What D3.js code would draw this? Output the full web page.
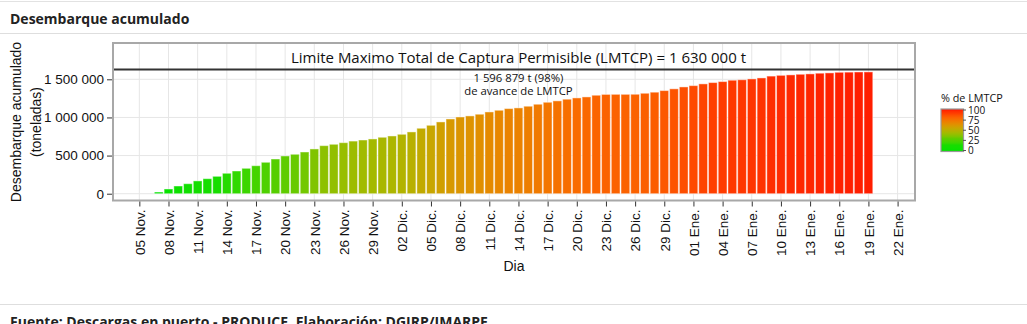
<!DOCTYPE html>
<html><head><meta charset="utf-8">
<script src="https://cdn.jsdelivr.net/npm/d3@7"></script>
<style>
html,body{margin:0;padding:0;background:#fff;}
svg{display:block;}
</style></head>
<body>
<svg id="chart" width="1027" height="324"></svg>
<script>
// ---------------- data ----------------
const firstLandingDay = "2016-11-07";
const landings = [
  22000, 62000, 101000, 131000, 168000, 197000, 228000, 268000, 298000, 333000,
  367000, 412000, 455000, 495000, 517000, 547000, 587000, 630000, 648000, 669000,
  690000, 704000, 718000, 740000, 757000, 779000, 810000, 858000, 897000, 941000,
  980000, 1006000, 1020000, 1042000, 1072000, 1094000, 1116000, 1125000, 1147000, 1173000,
  1199000, 1217000, 1239000, 1256000, 1269000, 1291000, 1302000, 1303000, 1303000, 1304000,
  1317000, 1331000, 1352000, 1375000, 1400000, 1417000, 1440000, 1457000, 1470000, 1488000,
  1494000, 1505000, 1518000, 1542000, 1552000, 1558000, 1566000, 1571000, 1580000, 1584000,
  1592000, 1594000, 1596000, 1596879
];
const lmtcp = 1630000;
const yTicks = [0, 500000, 1000000, 1500000];
const yTickLabels = ["0", "500 000", "1 000 000", "1 500 000"];
const xTickStart = "2016-11-05";
const xTickLabels = ["05 Nov.","08 Nov.","11 Nov.","14 Nov.","17 Nov.","20 Nov.","23 Nov.","26 Nov.","29 Nov.",
  "02 Dic.","05 Dic.","08 Dic.","11 Dic.","14 Dic.","17 Dic.","20 Dic.","23 Dic.","26 Dic.","29 Dic.",
  "01 Ene.","04 Ene.","07 Ene.","10 Ene.","13 Ene.","16 Ene.","19 Ene.","22 Ene."];
const legendTicks = [0, 25, 50, 75, 100];
const colorStopPct = [0, 15, 30, 45, 55, 65, 78, 90, 100];
const colorStopHex = ["#00e400", "#18dc00", "#5ccc00", "#a8b800", "#c8a600", "#e48c00", "#fa6800", "#ff3c00", "#ff1000"];
const labelDay = "2016-12-14";
const titleText = "Desembarque acumulado";
const footerText = "Fuente: Descargas en puerto - PRODUCE. Elaboración: DGIRP/IMARPE";
const limitText = "Limite Maximo Total de Captura Permisible (LMTCP) = 1 630 000 t";
const progressLines = ["1 596 879 t (98%)", "de avance de LMTCP"];

// ---------------- setup ----------------
const parse = d3.timeParse("%Y-%m-%d");
const t0 = parse(xTickStart);
const days = d3.timeDay.range(parse(firstLandingDay), d3.timeDay.offset(parse(firstLandingDay), landings.length));
const bars = landings.map((v, i) => ({date: days[i], value: v, pct: v / lmtcp * 100}));

const svg = d3.select("#chart");
const W = 1027, H = 324;
const panel = {x0: 113, x1: 915, y0: 43, y1: 200.5};

// page frame
svg.append("line").attr("x1", 0).attr("x2", W).attr("y1", 1.5).attr("y2", 1.5).attr("stroke", "#e2e2e2");
svg.append("text").attr("x", 10).attr("y", 24).text(titleText)
  .attr("font-family", "'Open Sans'").attr("font-weight", 700).attr("font-size", 14).attr("fill", "#222");
svg.append("line").attr("x1", 0).attr("x2", W).attr("y1", 33.5).attr("y2", 33.5).attr("stroke", "#dedede");
svg.append("line").attr("x1", 0).attr("x2", W).attr("y1", 304.5).attr("y2", 304.5).attr("stroke", "#dedede");
svg.append("text").attr("x", 10).attr("y", 327).text(footerText)
  .attr("font-family", "'Open Sans'").attr("font-weight", 700).attr("font-size", 14).attr("fill", "#222");

// scales
const x = d3.scaleTime()
  .domain([d3.timeHour.offset(t0, -2.7 * 24), d3.timeHour.offset(t0, 79.8 * 24)])
  .range([panel.x0, panel.x1]);
const y = d3.scaleLinear().domain([-89000, 1976000]).range([panel.y1, panel.y0]);
const color = d3.scaleLinear().domain(colorStopPct).range(colorStopHex).interpolate(d3.interpolateLab).clamp(true);

const xTickDates = d3.timeDay.range(t0, d3.timeDay.offset(t0, 3 * xTickLabels.length), 3);

// grid
const g = svg.append("g");
g.selectAll(".vg").data(xTickDates).join("line")
  .attr("x1", d => x(d)).attr("x2", d => x(d)).attr("y1", panel.y0).attr("y2", panel.y1)
  .attr("stroke", "#e6e6e6").attr("stroke-width", 1);
g.selectAll(".hg").data(yTicks).join("line")
  .attr("x1", panel.x0).attr("x2", panel.x1).attr("y1", d => y(d)).attr("y2", d => y(d))
  .attr("stroke", "#e6e6e6").attr("stroke-width", 1);

// bars
const dayW = x(d3.timeDay.offset(t0, 1)) - x(t0);
const bw = dayW * 0.9;
g.selectAll(".bar").data(bars).join("rect")
  .attr("x", d => x(d.date) - bw / 2).attr("width", bw)
  .attr("y", d => y(d.value)).attr("height", d => y(0) - y(d.value))
  .attr("fill", d => color(d.pct))
  .attr("stroke", "#ffffff").attr("stroke-opacity", 0.45).attr("stroke-width", 1);

// limit line
g.append("line").attr("x1", panel.x0).attr("x2", panel.x1).attr("y1", y(lmtcp)).attr("y2", y(lmtcp))
  .attr("stroke", "#333").attr("stroke-width", 2);
g.append("text").attr("x", x(parse(labelDay))).attr("y", y(lmtcp) - 6.5).attr("text-anchor", "middle")
  .attr("font-family", "'Open Sans'").attr("font-size", 15).attr("fill", "#111").text(limitText);
g.append("text").attr("x", x(parse(labelDay))).attr("y", y(lmtcp) + 12.5).attr("text-anchor", "middle")
  .attr("font-family", "'Open Sans'").attr("font-size", 11.3).attr("fill", "#111")
  .selectAll("tspan").data(progressLines).join("tspan")
  .attr("x", x(parse(labelDay))).attr("dy", (d, i) => i === 0 ? 0 : 13).text(d => d);

// panel border
svg.append("rect").attr("x", panel.x0).attr("y", panel.y0)
  .attr("width", panel.x1 - panel.x0).attr("height", panel.y1 - panel.y0)
  .attr("fill", "none").attr("stroke", "#a8a8a8").attr("stroke-width", 2);

// axes
const xAxis = d3.axisBottom(x).tickValues(xTickDates).tickFormat((d, i) => xTickLabels[i])
  .tickSize(5).tickPadding(4);
const xg = svg.append("g").attr("transform", `translate(0,${panel.y1 + 1})`).call(xAxis);
xg.select(".domain").remove();
xg.selectAll(".tick line").attr("stroke", "#333");
xg.selectAll(".tick text")
  .attr("font-family", "'Liberation Sans', Arial").attr("font-size", 13.5).attr("fill", "#111")
  .attr("text-anchor", "end").attr("transform", "rotate(-90)")
  .attr("x", -8).attr("y", 0).attr("dy", "0.35em");

const yAxis = d3.axisLeft(y).tickValues(yTicks).tickFormat((d, i) => yTickLabels[i])
  .tickSize(5).tickPadding(3);
const yg = svg.append("g").attr("transform", `translate(${panel.x0 - 1},0)`).call(yAxis);
yg.select(".domain").remove();
yg.selectAll(".tick line").attr("stroke", "#333");
yg.selectAll(".tick text")
  .attr("font-family", "'Liberation Sans', Arial").attr("font-size", 13.5).attr("fill", "#111");

// axis titles
svg.append("text").attr("x", 514).attr("y", 271).attr("text-anchor", "middle")
  .attr("font-family", "'Liberation Sans', Arial").attr("font-size", 14).attr("fill", "#111").text("Dia");
const yt = svg.append("text").attr("transform", "translate(21,122) rotate(-90)").attr("text-anchor", "middle")
  .attr("font-family", "'Liberation Sans', Arial").attr("font-size", 14).attr("fill", "#111");
yt.append("tspan").attr("x", 0).attr("dy", 0).text("Desembarque acumulado");
yt.append("tspan").attr("x", 0).attr("dy", 20).text("(toneladas)");

// legend
const lg = svg.append("g");
lg.append("text").attr("x", 941).attr("y", 102).text("% de LMTCP")
  .attr("font-family", "'Open Sans'").attr("font-size", 10.8).attr("fill", "#111");
const defs = svg.append("defs");
const grad = defs.append("linearGradient").attr("id", "lgrad").attr("x1", 0).attr("x2", 0).attr("y1", 1).attr("y2", 0);
d3.range(0, 101, 5).forEach(p => grad.append("stop").attr("offset", p + "%").attr("stop-color", color(p)));
const ly = d3.scaleLinear().domain([0, 100]).range([150.5, 110]);
lg.append("rect").attr("x", 941).attr("y", 109).attr("width", 22.5).attr("height", 42.5)
  .attr("fill", "url(#lgrad)").attr("stroke", "#999").attr("stroke-width", 1.2);
lg.selectAll(".lt").data(legendTicks).join("line")
  .attr("x1", 963).attr("x2", 966).attr("y1", d => ly(d)).attr("y2", d => ly(d)).attr("stroke", "#555");
lg.selectAll(".ll").data(legendTicks).join("text")
  .attr("x", 968).attr("y", d => ly(d)).attr("dy", "0.36em").text(d => d)
  .attr("font-family", "'Open Sans'").attr("font-size", 10).attr("fill", "#111");
</script>
</body></html>
